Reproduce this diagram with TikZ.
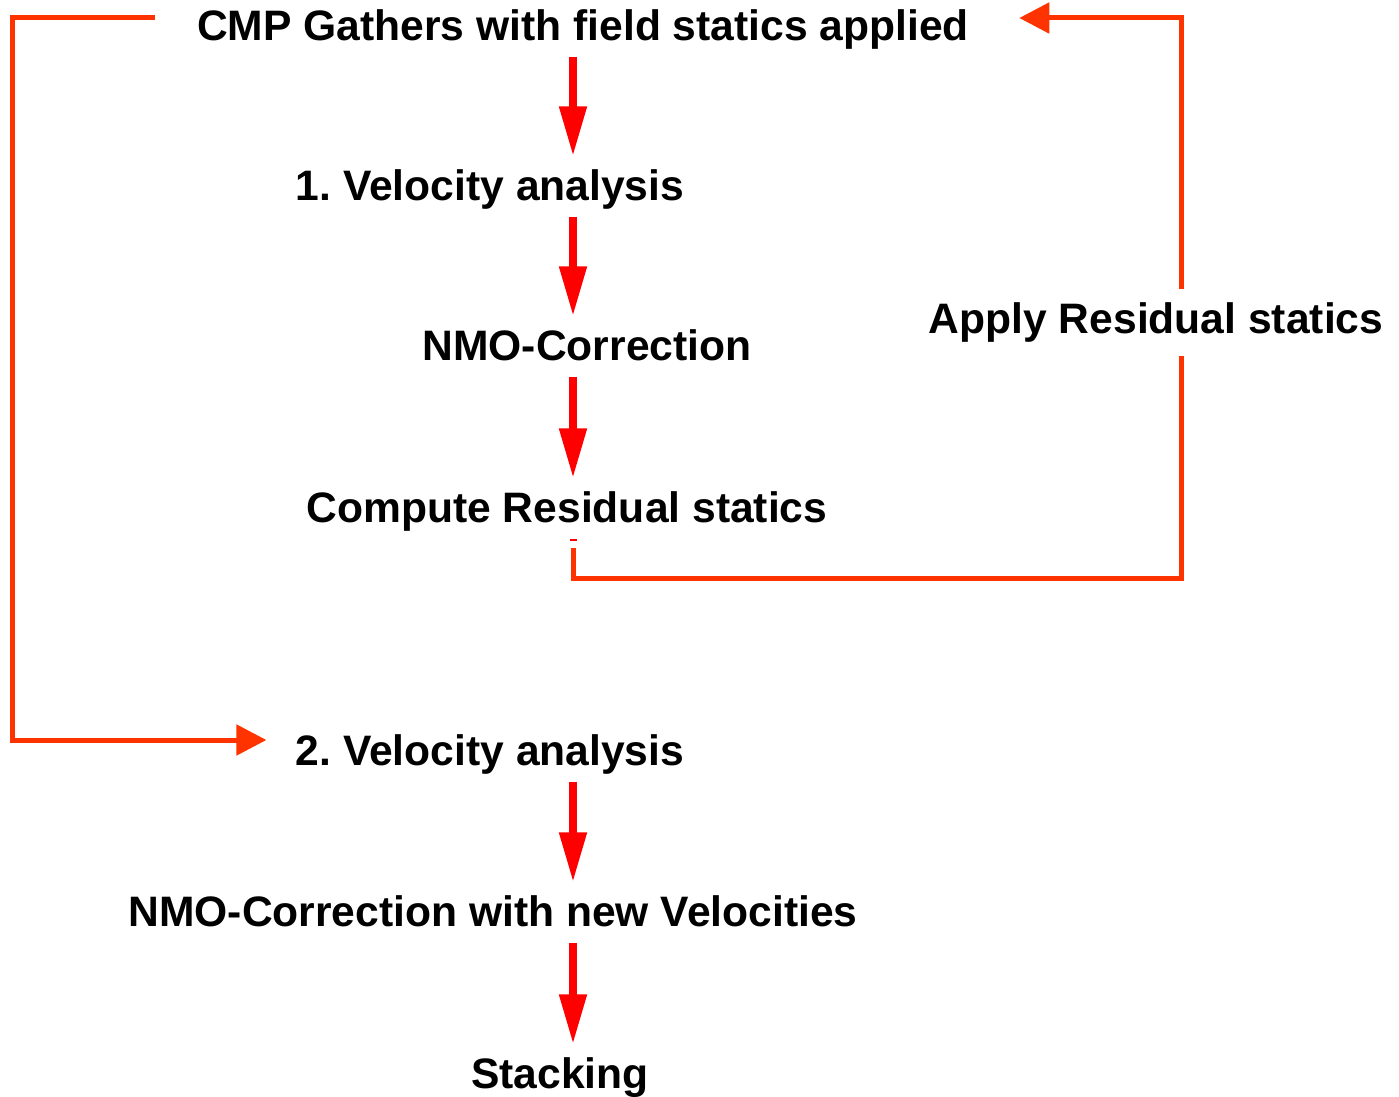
\documentclass[tikz,border=0pt]{standalone}
\usepackage{fontspec}
\setmainfont{Liberation Sans}
\usetikzlibrary{arrows.meta}
\definecolor{flowred}{HTML}{FF0000}
\definecolor{backred}{HTML}{FF3300}
\begin{document}
\begin{tikzpicture}[x=0.5pt,y=-0.5pt,
    stage/.style={inner sep=0pt, font=\bfseries\fontsize{21.3}{26}\selectfont\frenchspacing,
      text height=15.3pt, text depth=0pt},
    flow/.style={draw=flowred, line width=4pt,
      -{Triangle[length=25pt,width=13pt]}, shorten <=8pt, shorten >=6.5pt},
    feedback/.style={draw=backred, line width=2.5pt, line join=miter}]
    \useasboundingbox (0,0) rectangle (1399,1097);
    % stages
    \node[stage] (cmp) at (583,25) {CMP Gathers with field statics applied};
    \node[stage] (va1) at (490,185) {1. Velocity analysis};
    \node[stage] (nmo1) at (587,345) {NMO-Correction};
    \node[stage] (crs) at (567,507) {Compute Residual statics};
    \node[stage] (ars) at (1156,318) {Apply Residual statics};
    \node[stage] (va2) at (490,750) {2. Velocity analysis};
    \node[stage] (nmo2) at (493,911) {NMO-Correction with new Velocities};
    \node[stage] (stk) at (560,1073) {Stacking};
    \coordinate (ax) at (573,0);
    \coordinate (lc) at (12,740);
    \coordinate (rc) at (1181,578);
    % main flow
    \draw[flow] (cmp.south -| ax) -- (va1.north -| ax);
    \draw[flow] (va1.south -| ax) -- (nmo1.north -| ax);
    \draw[flow] (nmo1.south -| ax) -- (crs.north -| ax);
    \draw[flow] (va2.south -| ax) -- (nmo2.north -| ax);
    \draw[flow] (nmo2.south -| ax) -- (stk.north -| ax);
    % residual statics loop
    \draw[flowred, line width=1pt] ([xshift=-1.75pt,yshift=-8.5pt]crs.south -| ax) -- ++(7,0);
    \draw[feedback] ([yshift=-12.5pt]crs.south -| ax) |- (rc) -- ([yshift=-11pt]ars.south -| rc);
    \draw[feedback, -{Triangle[length=15pt,width=15pt]}]
      ([yshift=6.5pt]ars.north -| rc) |- ([xshift=25pt,yshift=3.5pt]cmp.east);
    % second pass
    \draw[feedback, -{Triangle[length=15pt,width=15pt]}]
      ([xshift=-21pt,yshift=3.5pt]cmp.west) -| (lc) -- ([xshift=-14.5pt,yshift=5pt]va2.west);
\end{tikzpicture}
\end{document}
